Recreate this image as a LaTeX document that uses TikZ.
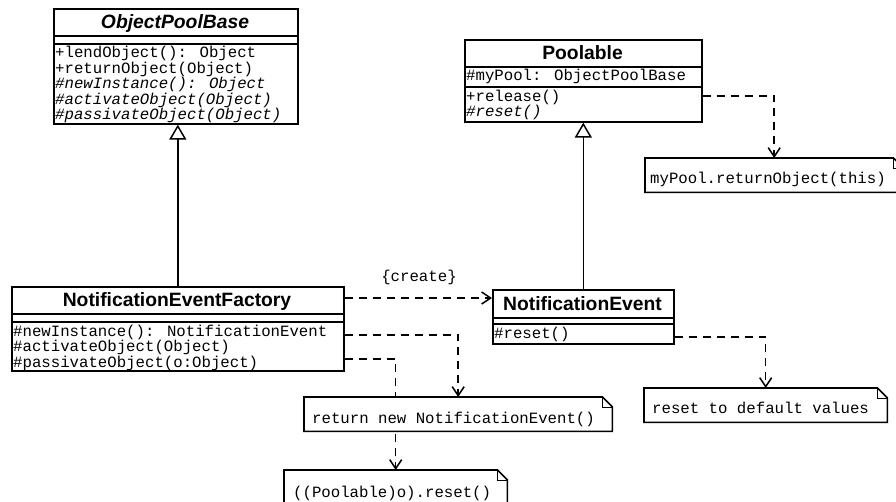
\documentclass[tikz,border=0pt]{standalone}
\usepackage{fontspec}
\setsansfont{Liberation Sans}
\newfontfamily\umlmono{Liberation Mono}
\usetikzlibrary{arrows.meta,backgrounds}
\begin{document}
\begin{tikzpicture}[x=1pt,y=-1pt,
  comp/.style={draw, line width=1.6pt, fill=white, inner sep=0pt, anchor=north west},
  ttl/.style={font=\sffamily\bfseries\fontsize{19.3}{22}\selectfont, anchor=base, inner sep=0pt},
  ttli/.style={font=\sffamily\bfseries\itshape\fontsize{19.3}{22}\selectfont, anchor=base, inner sep=0pt},
  mth/.style={font=\umlmono\fontsize{15.7}{16}\selectfont, anchor=base west, inner sep=0pt},
  mthi/.style={font=\umlmono\itshape\fontsize{15.7}{16}\selectfont, anchor=base west, inner sep=0pt},
  dep/.style={dash pattern=on 8pt off 6pt, line width=1.5pt, -{Straight Barb[length=9pt,width=12pt,line width=1.5pt]}},
  gen/.style={line width=1.5pt, -{Triangle[length=15pt,width=17pt,fill=white,line width=1.5pt]}},
  notebox/.style={fill=white, inner sep=0pt, anchor=north west},
  noteline/.style={line width=1.6pt, line join=miter}
]
\clip (0,0) rectangle (896,501);
\begin{pgfonlayer}{background}
\fill[white] (0,0) rectangle (896,501);
\end{pgfonlayer}

% ObjectPoolBase
\node[comp, minimum width=244, minimum height=27] (opbT) at (53,8) {};
\node[comp, minimum width=244, minimum height=8] (opbA) at (53,35) {};
\node[comp, minimum width=244, minimum height=80] (opbM) at (53,43) {};
\node[ttli] (opbTt) at (175,28.5) {ObjectPoolBase};
\node[mth] (opb1) at (55,57) {+lendObject(): Object};
\node[mth] (opb2) at (55,73) {+returnObject(Object)};
\node[mthi] (opb3) at (55,88) {\#newInstance(): Object};
\node[mthi] (opb4) at (55,104) {\#activateObject(Object)};
\node[mthi] (opb5) at (55,119) {\#passivateObject(Object)};

% Poolable
\node[comp, minimum width=237, minimum height=27] (pT) at (464,39) {};
\node[comp, minimum width=237, minimum height=20] (pA) at (464,66) {};
\node[comp, minimum width=237, minimum height=35] (pM) at (464,86) {};
\node[ttl] (pTt) at (582.5,59.5) {Poolable};
\node[mth] (p1) at (466,80) {\#myPool: ObjectPoolBase};
\node[mth] (p2) at (466,101) {+release()};
\node[mthi] (p3) at (466,116) {\#reset()};

% NotificationEventFactory
\node[comp, minimum width=332, minimum height=27] (fT) at (11,286) {};
\node[comp, minimum width=332, minimum height=8] (fA) at (11,313) {};
\node[comp, minimum width=332, minimum height=49] (fM) at (11,321) {};
\node[ttl] (fTt) at (177,306.5) {NotificationEventFactory};
\node[mth] (f1) at (13,336) {\#newInstance(): NotificationEvent};
\node[mth] (f2) at (13,351) {\#activateObject(Object)};
\node[mth] (f3) at (13,367) {\#passivateObject(o:Object)};

% NotificationEvent
\node[comp, minimum width=181, minimum height=28] (neT) at (492,289) {};
\node[comp, minimum width=181, minimum height=6] (neA) at (492,317) {};
\node[comp, minimum width=181, minimum height=20] (neM) at (492,323) {};
\node[ttl] (neTt) at (582.5,310) {NotificationEvent};
\node[mth] (ne1) at (494,338) {\#reset()};

% Notes
\node[notebox, minimum width=258, minimum height=34] (n1) at (645,158) {};
\node[notebox, minimum width=308, minimum height=34] (n2) at (304,397) {};
\node[notebox, minimum width=223, minimum height=36] (n3) at (284,470) {};
\node[notebox, minimum width=243, minimum height=34] (n4) at (644,388) {};
\foreach \n in {n1,n2,n3,n4}{
  \draw[noteline] (\n.north west) -- ([xshift=-10pt]\n.north east) -- ([yshift=-10pt]\n.north east)
     -- (\n.south east) -- (\n.south west) -- cycle;
  \draw[line width=1pt] ([xshift=-10pt]\n.north east) |- ([yshift=-10pt]\n.north east);
}
\node[mth] (n1t) at (650,183) {myPool.returnObject(this)};
\node[mth] (n2t) at (312,423) {return new NotificationEvent()};
\node[mth] (n3t) at (293,497) {((Poolable)o).reset()};
\node[mth] (n4t) at (652,413) {reset to default values};

\node[mth, anchor=base] (crl) at (419,281) {\{create\}};

\begin{pgfonlayer}{background}
\draw[gen] (fT.north) -- (fT.north |- opbM.south);
\draw[gen] (neT.north) -- (neT.north |- pM.south);
\draw[dep] (fT.east |- 0,298) -- (neT.west |- 0,298);
\draw[dep] (fM.east |- 0,335) -| (n2.north);
\draw[dep] (fM.east |- 0,359) -| (n3.north);
\draw[dep] (neM.east |- 0,337) -| (n4.north);
\draw[dep] (pM.east |- 0,96) -| (n1.north);
\end{pgfonlayer}
\end{tikzpicture}
\end{document}
